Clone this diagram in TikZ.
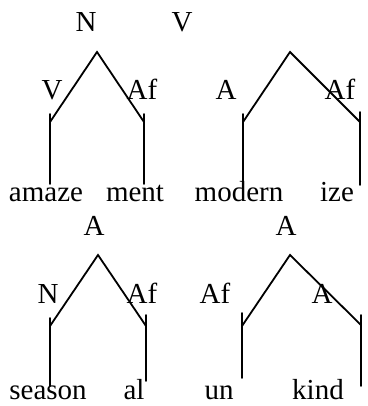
\documentclass[tikz,border=0pt]{standalone}
\usepackage{fontspec}
\setmainfont{Liberation Serif}
\usepackage{tikz}
\usetikzlibrary{positioning}

\begin{document}
\begin{tikzpicture}[
    x=1pt, y=-1pt,
    cat/.style = {font=\fontsize{29}{30}\selectfont, anchor=base, inner sep=0pt},
    morph/.style = {font=\fontsize{29}{30}\selectfont, anchor=base, inner sep=0pt},
    branch/.style = {draw=black, line width=1.8pt, line cap=round}
]
\useasboundingbox (0,0) rectangle (367,406);

% Top row: category labels
\node (n_top) [cat] at (86, 32) {N};
\node (v_top) [cat] at (182, 32) {V};

% Tree 1: amaze + ment
\coordinate (t1top) at (97, 52);
\coordinate (t1l) at (50, 122);
\coordinate (t1r) at (144, 122);
\coordinate (t1lu) at (50, 114);
\coordinate (t1ld) at (50, 184);
\coordinate (t1ru) at (144, 114);
\coordinate (t1rd) at (144, 184);
\node (t1_v) [cat] at (52, 100) {V};
\node (t1_af) [cat] at (142, 100) {Af};
\node (amaze) [morph] at (46, 201) {amaze};
\node (ment) [morph] at (135, 201) {ment};

% Tree 2: modern + ize
\coordinate (t2top) at (290, 52);
\coordinate (t2l) at (243, 122);
\coordinate (t2r) at (360, 122);
\coordinate (t2lu) at (243, 114);
\coordinate (t2ld) at (243, 181);
\coordinate (t2ru) at (360, 112);
\coordinate (t2rd) at (360, 185);
\node (t2_a) [cat] at (226, 100) {A};
\node (t2_af) [cat] at (340, 100) {Af};
\node (modern) [morph] at (239, 201) {modern};
\node (ize) [morph] at (337, 201) {ize};

% Tree 3: season + al
\node (t3_root) [cat] at (94, 235) {A};
\coordinate (t3top) at (98, 255);
\coordinate (t3l) at (50, 326);
\coordinate (t3r) at (146, 326);
\coordinate (t3lu) at (50, 318);
\coordinate (t3ld) at (50, 386);
\coordinate (t3ru) at (146, 315);
\coordinate (t3rd) at (146, 381);
\node (t3_n) [cat] at (48, 303) {N};
\node (t3_af) [cat] at (142, 303) {Af};
\node (season) [morph] at (48, 399) {season};
\node (al) [morph] at (134, 399) {al};

% Tree 4: un + kind
\node (t4_root) [cat] at (286, 235) {A};
\coordinate (t4top) at (290, 255);
\coordinate (t4l) at (242, 326);
\coordinate (t4r) at (361, 325);
\coordinate (t4lu) at (242, 313);
\coordinate (t4ld) at (242, 378);
\coordinate (t4ru) at (361, 315);
\coordinate (t4rd) at (361, 386);
\node (t4_af) [cat] at (215, 303) {Af};
\node (t4_a) [cat] at (322, 303) {A};
\node (un) [morph] at (219, 399) {un};
\node (kind) [morph] at (318, 399) {kind};

% Branches
\foreach \t in {t1,t2,t3,t4} {
    \draw [branch] (\t l) -- (\t top) -- (\t r);
    \draw [branch] (\t lu) -- (\t ld);
    \draw [branch] (\t ru) -- (\t rd);
}

\end{tikzpicture}
\end{document}
